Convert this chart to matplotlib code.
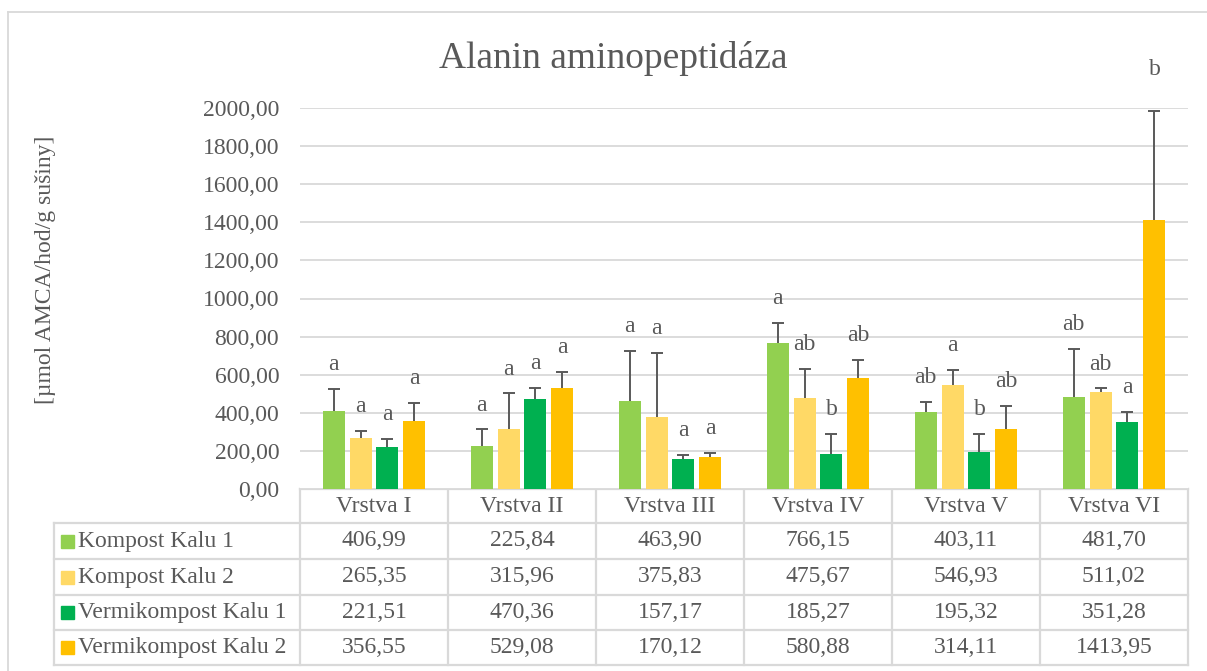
import numpy as np
import matplotlib
matplotlib.use("Agg")
import matplotlib.pyplot as plt
from matplotlib.ticker import FuncFormatter
from matplotlib.lines import Line2D
from matplotlib.patches import Rectangle

plt.rcParams['font.family'] = ['Liberation Serif', 'DejaVu Serif']

# data
layers = ["Vrstva I", "Vrstva II", "Vrstva III", "Vrstva IV", "Vrstva V", "Vrstva VI"]
series = ["Kompost Kalu 1", "Kompost Kalu 2", "Vermikompost Kalu 1", "Vermikompost Kalu 2"]
k1 = [406.99, 225.84, 463.90, 766.15, 403.11, 481.70]
k2 = [265.35, 315.96, 375.83, 475.67, 546.93, 511.02]
v1 = [221.51, 470.36, 157.17, 185.27, 195.32, 351.28]
v2 = [356.55, 529.08, 170.12, 580.88, 314.11, 1413.95]
# upper error (sd)
k1_err = [119, 87, 260, 105, 55, 253]
k2_err = [41, 186, 338, 154, 79, 17]
v1_err = [40, 62, 23, 105, 92, 55]
v2_err = [94, 85, 20, 96, 123, 570]
# significance letters
k1_let = ["a", "a", "a", "a", "ab", "ab"]
k2_let = ["a", "a", "a", "ab", "a", "ab"]
v1_let = ["a", "a", "a", "b", "b", "a"]
v2_let = ["a", "a", "a", "ab", "ab", "b"]

colors = ["#92D050", "#FFD966", "#00B050", "#FFC000"]
txt = "#595959"
grid = "#D9D9D9"

W, H = 1207, 671
fig = plt.figure(figsize=(W / 100, H / 100), dpi=100)

# plot area in pixels
x0, x1, ytop, ybot = 300, 1188, 108, 489
ax = fig.add_axes([x0 / W, 1 - ybot / H, (x1 - x0) / W, (ybot - ytop) / H])

vals = [k1, k2, v1, v2]
errs = [k1_err, k2_err, v1_err, v2_err]
lets = [k1_let, k2_let, v1_let, v2_let]
x = np.arange(len(layers))
step, bw = 0.182, 0.149
for k in range(4):
    pos = x + (k - 1.5) * step
    top = np.array(vals[k]) + np.array(errs[k])
    ax.bar(pos, vals[k], bw, color=colors[k], zorder=2)
    # plus-only error bars: stem + single cap
    ax.vlines(pos, vals[k], top, color=txt, lw=1.4, zorder=3)
    ax.plot(pos, top, ls="none", marker="_", ms=9, mew=1.4, color=txt, zorder=3)
    for i in range(6):
        off = 30 if (k == 3 and i == 5) else 17.5
        ax.annotate(lets[k][i], (pos[i], top[i]),
                    xytext=(0, off), textcoords="offset points",
                    ha="center", va="center", fontsize=17, color=txt,
                    annotation_clip=False)

ax.set_xlim(-0.5, 5.5)
ax.set_ylim(0, 2000)
ax.set_yticks(np.arange(0, 2001, 200))
ax.yaxis.set_major_formatter(FuncFormatter(lambda v, p: f"{v:.2f}".replace(".", ",")))
ax.tick_params(axis="y", length=0, pad=15, labelsize=17, labelcolor=txt)
ax.set_xticks([])
for s in ax.spines.values():
    s.set_visible(False)
ax.grid(axis="y", color=grid, linewidth=1.3, zorder=0)
ax.set_axisbelow(True)

# overlay for table, title, frame
ov = fig.add_axes([0, 0, 1, 1], zorder=-1)
ov.set_xlim(0, W)
ov.set_ylim(H, 0)
ov.axis("off")

lw = 1.6
ov.add_line(Line2D([8, W], [12, 12], color=grid, lw=1.3))
ov.add_line(Line2D([8, 8], [12, H], color=grid, lw=1.3))

colw = (x1 - x0) / len(layers)
rows = [523, 559, 595, 630, 665]
ov.add_line(Line2D([x0, x1], [ybot, ybot], color=grid, lw=lw))
for r in rows:
    ov.add_line(Line2D([54, x1], [r, r], color=grid, lw=lw))
ov.add_line(Line2D([54, 54], [rows[0], rows[-1]], color=grid, lw=lw))
for i in range(len(layers) + 1):
    ov.add_line(Line2D([x0 + i * colw] * 2, [ybot, rows[-1]], color=grid, lw=lw))

for i, name in enumerate(layers):
    ov.text(x0 + (i + 0.5) * colw, (ybot + rows[0]) / 2, name, ha="center",
            va="center", fontsize=17, color=txt)
for k in range(4):
    yc = (rows[k] + rows[k + 1]) / 2
    ov.add_patch(Rectangle((61, yc - 6.5), 13, 13, color=colors[k]))
    ov.text(78, yc, series[k], ha="left", va="center", fontsize=17, color=txt)
    for i in range(6):
        ov.text(x0 + (i + 0.5) * colw, yc, f"{vals[k][i]:.2f}".replace(".", ","),
                ha="center", va="center", fontsize=17, color=txt)

fig.text(613 / W, 1 - 68 / H, "Alanin aminopeptidáza", ha="center", va="baseline",
         fontsize=27, color=txt)
fig.text(46 / W, 1 - 270 / H, "[µmol AMCA/hod/g sušiny]", rotation=90,
         ha="center", va="center", fontsize=17, color=txt)

fig.savefig("out.png", dpi=100)
